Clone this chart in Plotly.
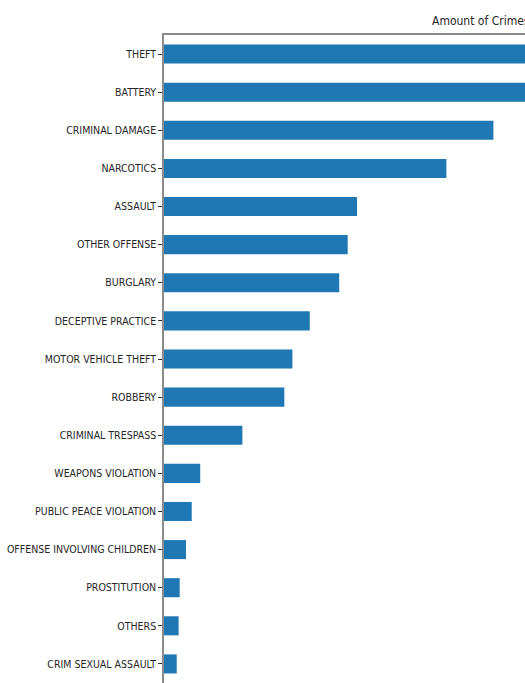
import plotly.graph_objects as go

categories = ["THEFT", "BATTERY", "CRIMINAL DAMAGE", "NARCOTICS", "ASSAULT",
              "OTHER OFFENSE", "BURGLARY", "DECEPTIVE PRACTICE", "MOTOR VEHICLE THEFT",
              "ROBBERY", "CRIMINAL TRESPASS", "WEAPONS VIOLATION", "PUBLIC PEACE VIOLATION",
              "OFFENSE INVOLVING CHILDREN", "PROSTITUTION", "OTHERS", "CRIM SEXUAL ASSAULT"]
counts = [329000, 263000, 155500, 133300, 91100, 86700, 82700, 68800, 60600,
          56800, 37000, 17100, 13100, 10400, 7400, 6900, 6000]
title_text = "Amount of Crimes"

W, H = 525, 683
L, T = 164, 35
plot_w = W - L
x_max = 170400

font = "DejaVu Sans Condensed, DejaVu Sans, sans-serif"

fig = go.Figure(go.Bar(
    x=counts, y=categories, orientation="h", width=0.5,
    marker=dict(color="#1f77b4", line=dict(width=0)),
    hoverinfo="x+y",
))

fig.update_layout(
    width=W, height=H,
    margin=dict(l=L, r=0, t=T, b=0, autoexpand=False),
    paper_bgcolor="white", plot_bgcolor="white",
    showlegend=False,
    font=dict(family=font, size=10.5, color="#262626"),
    xaxis=dict(range=[0, x_max], side="top", showline=True, linecolor="#8c8c8c",
               linewidth=2, showgrid=False, zeroline=False, showticklabels=False,
               ticks="", automargin=False),
    yaxis=dict(categoryorder="array", categoryarray=categories,
               range=[len(categories) - 0.5, -0.5], showline=True,
               linecolor="#8c8c8c", linewidth=1.5, showgrid=False, zeroline=False,
               ticks="outside", ticklen=4, tickcolor="#333", tickwidth=1,
               automargin=False,
               tickfont=dict(family=font, size=10.5, color="#262626")),
    annotations=[dict(text=title_text, xref="paper", yref="paper",
                      x=(430 - L) / plot_w, y=1 + (T - 21) / (H - T),
                      xanchor="left", yanchor="middle", showarrow=False,
                      font=dict(family=font, size=12, color="#262626"))],
)

fig.write_html("out.html",
               config={"displayModeBar": False},
               post_script="document.body.style.margin='0';document.body.style.overflow='hidden';")
